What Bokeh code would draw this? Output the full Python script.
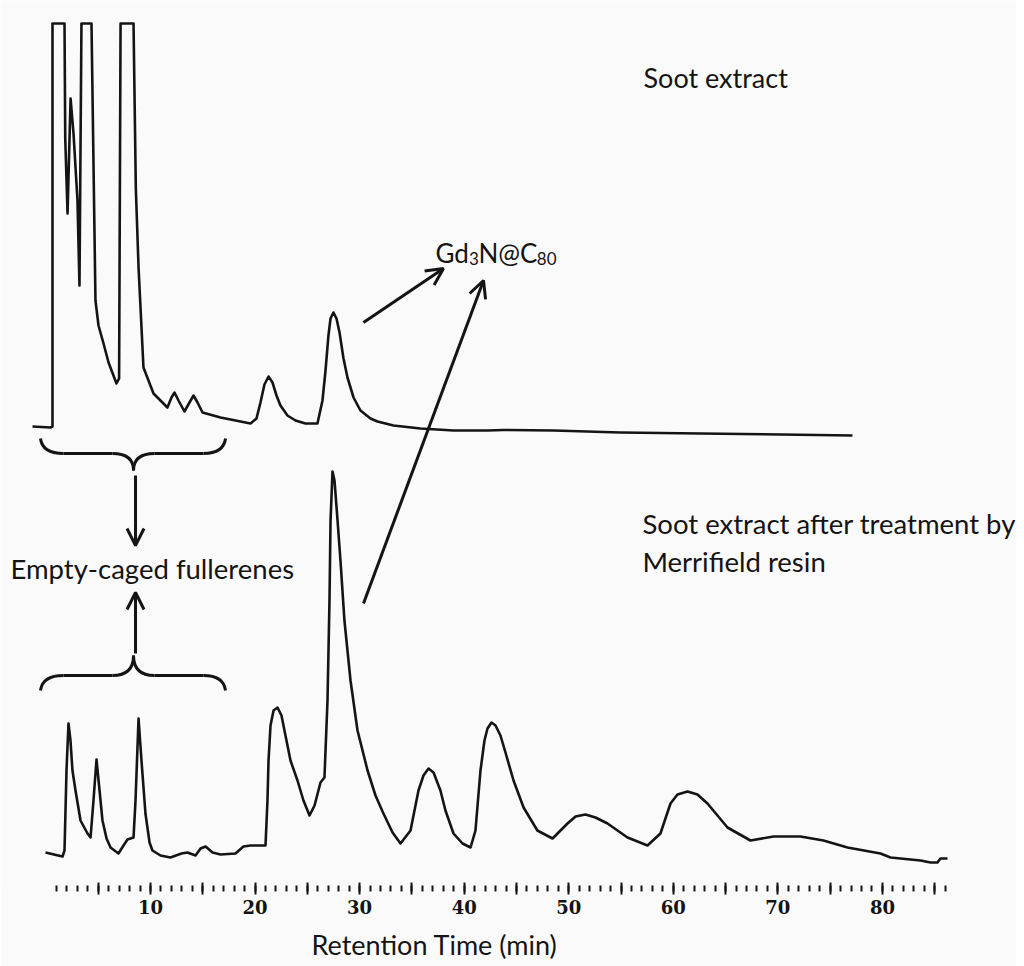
from bokeh.plotting import figure
from bokeh.models import Range1d, FixedTicker, Label, Arrow, OpenHead, ColumnDataSource, Title
from bokeh.embed import file_html
from bokeh.resources import INLINE

# ---- data (retention time in min, detector signal in arbitrary units) ----
soot_time = [-1.28, 0.44, 0.63, 0.63, 1.78, 1.85, 2.07, 2.36, 2.64, 3.02, 3.21, 3.40, 4.36,
             4.74, 5.03, 5.51, 5.99, 6.46, 6.75, 7.00, 7.14, 8.38, 8.60, 8.86, 9.33, 10.29,
             11.62, 12.01, 12.30, 12.68, 13.25, 13.73, 14.12, 14.50, 14.98, 16.70,
             19.57, 20.14, 20.52, 20.90, 21.29, 21.67, 22.05, 22.43, 23.10, 23.87, 24.82,
             25.97, 26.45, 26.74, 27.02, 27.22, 27.50, 27.79, 28.08, 28.46, 28.84, 29.42,
             30.08, 31.04, 31.71, 33.24, 35.82, 38.98, 42.23, 43.76, 48.54, 54.95, 62.60,
             70.25, 77.13]
soot_signal = [1.2, 1.1, 1.2, 41.5, 41.5, 30.0, 22.5, 34.0, 30.5, 23.8, 15.3, 41.5, 41.5,
               13.8, 11.3, 9.5, 7.6, 6.3, 5.5, 6.0, 41.5, 41.5, 25.0, 17.1, 7.1, 4.5,
               3.1, 4.1, 4.6, 3.8, 2.7, 3.6, 4.3, 3.6, 2.6, 2.1,
               1.5, 2.0, 3.6, 5.4, 6.2, 5.6, 4.3, 3.3, 2.3, 1.8, 1.5,
               1.5, 3.8, 6.8, 10.3, 12.0, 12.6, 12.0, 10.6, 8.0, 6.1, 4.1,
               2.8, 2.0, 1.7, 1.3, 1.0, 0.8, 0.8, 0.85, 0.8, 0.6, 0.5,
               0.4, 0.3]
soot_offset = 45.0

resin_time = [-0.04, 1.59, 1.78, 1.97, 2.16, 2.35, 2.54, 2.83, 3.31, 3.98, 4.27, 4.55, 4.84,
              5.13, 5.41, 5.80, 6.18, 6.94, 7.42, 7.80, 8.38, 8.57, 8.86, 9.14, 9.52, 9.91,
              10.19, 10.96, 11.91, 12.97, 13.54, 14.31, 14.79, 15.27, 15.94, 16.70, 18.13,
              18.89, 19.56, 21.00, 21.19, 21.29, 21.48, 21.77, 22.15, 22.53, 22.91, 23.39,
              24.06, 24.63, 25.21, 25.69, 26.26, 26.64, 26.93, 27.12, 27.22, 27.41, 27.60,
              27.89, 28.17, 28.55, 29.13, 29.80, 30.76, 31.52, 32.28, 33.15, 33.91, 34.87,
              35.63, 36.11, 36.59, 37.07, 37.73, 38.21, 38.98, 39.84, 40.61, 41.08, 41.56,
              41.94, 42.23, 42.61, 43.00, 43.47, 43.95, 44.72, 45.68, 47.00, 48.45, 49.88,
              50.65, 51.60, 52.56, 53.71, 55.62, 57.53, 58.77, 59.73, 60.40, 61.36, 62.31,
              63.27, 65.18, 67.38, 69.58, 72.16, 74.36, 76.66, 79.81, 80.77, 83.64, 84.60,
              85.26, 85.55, 86.22]
resin_signal = [3.6, 3.2, 3.8, 11.8, 16.5, 14.8, 11.8, 9.8, 6.8, 5.5, 5.1, 8.8, 12.9,
                9.8, 6.8, 5.0, 4.1, 3.5, 4.3, 4.9, 5.1, 8.8, 17.0, 12.8, 7.5, 4.6,
                3.8, 3.3, 3.1, 3.5, 3.6, 3.3, 4.0, 4.2, 3.6, 3.4, 3.5,
                4.2, 4.3, 4.3, 8.8, 12.8, 16.3, 17.8, 18.1, 17.3, 15.3, 12.8,
                10.8, 8.8, 7.3, 8.3, 10.6, 11.1, 18.8, 28.8, 36.8, 41.7, 40.8,
                36.8, 32.8, 26.8, 20.8, 15.8, 11.8, 9.3, 7.5, 5.6, 4.5, 5.8,
                9.8, 11.3, 12.0, 11.6, 9.8, 7.8, 5.5, 4.5, 4.1, 5.8, 11.8,
                14.8, 16.0, 16.6, 16.3, 15.3, 13.6, 10.8, 8.1, 5.8, 5.0, 6.5,
                7.2, 7.4, 7.1, 6.5, 5.1, 4.3, 5.5, 8.5, 9.4, 9.7, 9.4,
                8.5, 6.1, 4.8, 5.2, 5.2, 4.8, 4.1, 3.5, 3.1, 2.8, 2.6,
                2.6, 3.0, 3.0]

major_ticks = [5, 10, 15, 20, 25, 30, 35, 40, 45, 50, 55, 60, 65, 70, 75, 80, 85]
labelled_ticks = [10, 20, 30, 40, 50, 60, 70, 80]
minor_ticks = list(range(1, 87))

x_title = "Retention Time (min)"
label_soot = "Soot extract"
label_resin_1 = "Soot extract after treatment by"
label_resin_2 = "Merrifield resin"
label_empty = "Empty-caged fullerenes"

# ---- figure ----
BG = "#fafafa"
INK = "#141414"
FONT = "Lato"

p = figure(width=1016, height=966, output_backend="svg", toolbar_location=None,
           x_range=Range1d(-4.342, 92.82), y_range=Range1d(0, 88.8),
           min_border_left=0, min_border_right=0, min_border_top=0, min_border_bottom=78)
p.background_fill_color = BG
p.border_fill_color = BG
p.outline_line_color = None
p.grid.visible = False
p.yaxis.visible = False

ax = p.xaxis[0]
ax.ticker = FixedTicker(ticks=major_ticks, minor_ticks=minor_ticks)
ax.major_label_overrides = {t: ("" if t not in labelled_ticks else str(t)) for t in major_ticks}
ax.axis_line_color = None
ax.major_tick_line_color = INK
ax.minor_tick_line_color = INK
ax.major_tick_line_width = 2
ax.minor_tick_line_width = 2
ax.major_tick_in = 6
ax.major_tick_out = 6
ax.minor_tick_in = 3
ax.minor_tick_out = 3
ax.major_label_standoff = 5
ax.major_label_text_font = "DejaVu Serif"
ax.major_label_text_font_style = "bold"
ax.major_label_text_font_size = "18px"
ax.major_label_text_color = INK
# blank spacer label so the title below sits at the reference's height
ax.axis_label = " "
ax.axis_label_standoff = 0
ax.axis_label_text_font_size = "6px"
ax.axis_label_text_alpha = 0

p.add_layout(Title(text=x_title, align="left", offset=311, standoff=0,
                   text_font=FONT, text_font_size="27px", text_font_style="normal",
                   text_color=INK, vertical_align="bottom"), "below")

src_soot = ColumnDataSource(dict(t=soot_time, s=[v + soot_offset for v in soot_signal]))
src_resin = ColumnDataSource(dict(t=resin_time, s=resin_signal))
p.line("t", "s", source=src_soot, line_color=INK, line_width=2.6, line_join="round")
p.line("t", "s", source=src_resin, line_color=INK, line_width=2.6, line_join="round")

# ---- annotations ----
def add_label(x, y, text, size, align="left"):
    p.add_layout(Label(x=x, y=y, text=text, text_font=FONT, text_font_size=size,
                       text_color=INK, text_align=align, text_baseline="alphabetic"))

add_label(57.15, 81.1, label_soot, "27px")
add_label(57.05, 36.5, label_resin_1, "27.5px")
add_label(57.05, 32.7, label_resin_2, "27.5px")
add_label(-3.39, 32.0, label_empty, "27.5px")

# Gd3N@C80 with subscripts
add_label(37.25, 63.6, "Gd", "26px")
add_label(40.46, 63.0, "3", "17px")
add_label(41.37, 63.6, "N@C", "26px")
add_label(46.95, 63.0, "80", "17px")

def arrow(x0, y0, x1, y1):
    p.add_layout(Arrow(end=OpenHead(size=17, line_width=3, line_color=INK),
                       x_start=x0, y_start=y0, x_end=x1, y_end=y1,
                       line_width=3, line_color=INK))

arrow(30.37, 56.6, 38.02, 62.0)
arrow(30.37, 28.5, 41.85, 60.8)
arrow(8.57, 41.3, 8.57, 34.3)
arrow(8.57, 23.5, 8.57, 29.6)

# curly braces (upper points down, lower points up)
def brace(y_end, y_flat, y_tip):
    x0 = [-0.52, 6.37, 8.38, 15.07]
    y0 = [y_end, y_flat, y_tip, y_flat]
    x1 = [1.68, 8.38, 10.39, 17.18]
    y1 = [y_flat, y_tip, y_flat, y_end]
    cx = [-0.33, 8.38, 8.38, 16.98]
    cy = [y_flat, y_flat, y_flat, y_flat]
    p.quadratic(x0=x0, y0=y0, x1=x1, y1=y1, cx=cx, cy=cy, line_color=INK, line_width=3)
    p.segment(x0=[1.68, 10.39], y0=[y_flat, y_flat], x1=[6.37, 15.07], y1=[y_flat, y_flat],
              line_color=INK, line_width=3)

brace(45.0, 43.5, 41.8)
brace(19.8, 21.3, 23.3)

open("out.html", "w").write(file_html(p, INLINE))
